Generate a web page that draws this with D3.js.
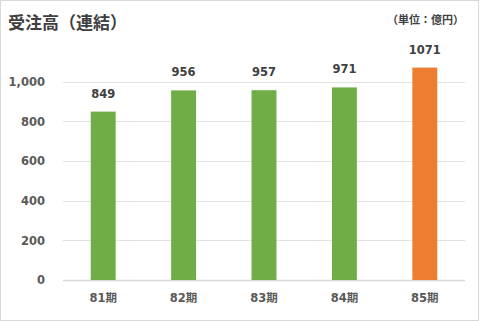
<!DOCTYPE html>
<html>
<head>
<meta charset="utf-8">
<script src="https://cdn.jsdelivr.net/npm/d3@7"></script>
<style>
  html, body { margin: 0; padding: 0; background: #fff; }
  svg { display: block; }
</style>
</head>
<body>
<div id="chart"></div>
<script>
// chart data
const periods = ['81期', '82期', '83期', '84期', '85期'];
const orders = [849, 956, 957, 971, 1071];
const yTicks = [0, 200, 400, 600, 800, 1000];
const title = '受注高（連結）';
const unitLabel = '（単位：億円）';

const width = 480;
const height = 321;
const margin = { top: 42, right: 15, bottom: 41, left: 63 };

const jpFont = '"Noto Sans CJK JP", "DejaVu Sans", sans-serif';
const numFont = '"DejaVu Sans", "Noto Sans CJK JP", sans-serif';

const svg = d3.select('#chart')
  .append('svg')
  .attr('width', width)
  .attr('height', height);

// outer frame
svg.append('rect')
  .attr('x', 0.5)
  .attr('y', 0.5)
  .attr('width', width - 2)
  .attr('height', height - 1)
  .attr('fill', '#fff')
  .attr('stroke', '#d9d9d9');

const x = d3.scaleBand()
  .domain(periods)
  .range([margin.left, width - margin.right])
  .paddingInner(0.69)
  .paddingOuter(0.345);

const y = d3.scaleLinear()
  .domain([0, 1200])
  .range([height - margin.bottom, margin.top]);

// gridlines
svg.append('g')
  .selectAll('line')
  .data(yTicks)
  .join('line')
  .attr('x1', margin.left)
  .attr('x2', width - margin.right)
  .attr('y1', d => Math.round(y(d)) + 0.5)
  .attr('y2', d => Math.round(y(d)) + 0.5)
  .attr('stroke', d => d === 0 ? '#d9d9d9' : '#e3e3e3')
  .attr('stroke-width', d => d === 0 ? 1.5 : 1);

// y axis labels
const yAxis = d3.axisLeft(y)
  .tickValues(yTicks)
  .tickFormat(d3.format(','))
  .tickSize(0)
  .tickPadding(18);

svg.append('g')
  .attr('transform', `translate(${margin.left},0)`)
  .call(yAxis)
  .call(g => g.select('.domain').remove())
  .selectAll('text')
  .attr('fill', '#595959')
  .style('font-family', numFont)
  .style('font-weight', 'bold')
  .style('font-size', '11.5px');

// x axis labels
const xAxis = d3.axisBottom(x)
  .tickSize(0)
  .tickPadding(14);

svg.append('g')
  .attr('transform', `translate(0,${height - margin.bottom})`)
  .call(xAxis)
  .call(g => g.select('.domain').remove())
  .selectAll('text')
  .attr('fill', '#595959')
  .style('font-family', numFont)
  .style('font-weight', 'bold')
  .style('font-size', '11.5px');

// bars
svg.append('g')
  .selectAll('rect')
  .data(orders)
  .join('rect')
  .attr('x', (d, i) => x(periods[i]))
  .attr('y', d => y(d))
  .attr('width', x.bandwidth())
  .attr('height', d => y(0) - y(d))
  .attr('fill', (d, i) => i === orders.length - 1 ? '#ed7d31' : '#70ad47');

// value labels
svg.append('g')
  .selectAll('text')
  .data(orders)
  .join('text')
  .attr('x', (d, i) => x(periods[i]) + x.bandwidth() / 2)
  .attr('y', d => y(d) - 14)
  .attr('text-anchor', 'middle')
  .attr('fill', '#404040')
  .style('font-family', numFont)
  .style('font-weight', 'bold')
  .style('font-size', '11.5px')
  .text(d => d);

// title
svg.append('text')
  .attr('x', 8)
  .attr('y', 29)
  .attr('fill', '#404040')
  .style('font-family', jpFont)
  .style('font-weight', 'bold')
  .style('font-size', '17px')
  .text(title);

// unit
svg.append('text')
  .attr('x', 464)
  .attr('y', 24)
  .attr('text-anchor', 'end')
  .attr('fill', '#404040')
  .style('font-family', jpFont)
  .style('font-weight', 'bold')
  .style('font-size', '11px')
  .text(unitLabel);
</script>
</body>
</html>
